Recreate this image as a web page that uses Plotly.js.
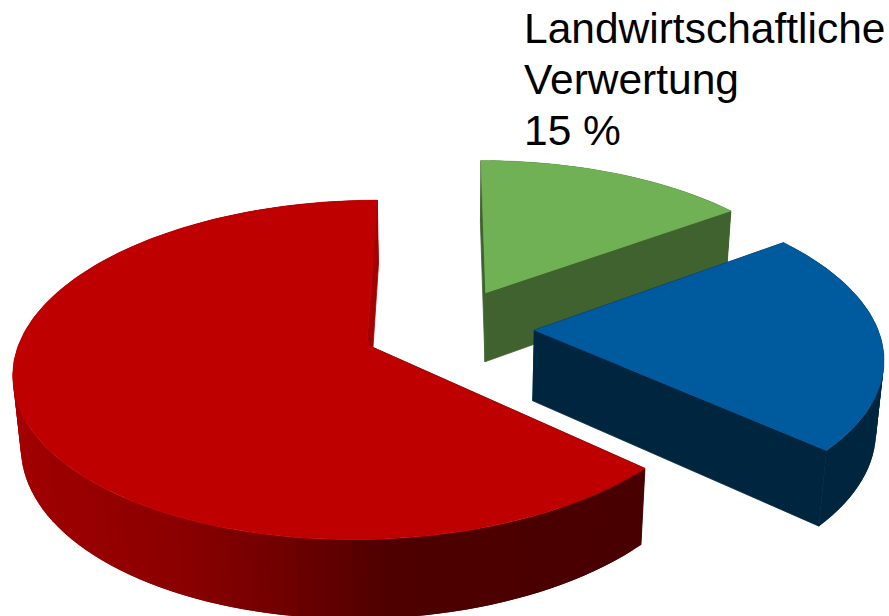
<!DOCTYPE html>
<html>
<head>
<meta charset="utf-8">
<script src="https://cdn.plot.ly/plotly-3.0.1.min.js"></script>
<style>html,body{margin:0;padding:0;background:#fff}</style>
</head>
<body>
<div id="chart" style="width:889px;height:616px"></div>
<script>
// Slice data, clockwise from twelve o'clock
const labelLines = ['Landwirtschaftliche', 'Verwertung'];
const sliceValues = [15, 21.7, 63.3];
const topColors = ['#71B156', '#005A9E', '#BE0000'];
const wallColors = ['#3F622E', '#00263F', null];
// Side shading of the large slice: clockwise angle -> red level
const shadeAngles = [132, 175, 190, 205, 225, 270, 360];
const shadeLevels = [72, 78, 112, 138, 152, 170, 165];

// Camera for the tilted disc
const cam = {u0: 447.5, v0: 328, focal: 2076, dist: 6.05, tilt: 28 * Math.PI / 180};
const explode = 0.253;
const thickness = 0.237;

function project(X, Y, Z) {
  const s = Math.sin(cam.tilt), c = Math.cos(cam.tilt);
  const depth = cam.dist + Y * c - Z * s;
  return [cam.u0 + cam.focal * X / depth, cam.v0 - cam.focal * (Y * s + Z * c) / depth];
}

function polygon(points, color, lineWidth) {
  const xy = points.map(p => project(p[0], p[1], p[2]));
  xy.push(xy[0]);
  return {
    type: 'scatter', mode: 'lines', fill: 'toself', fillcolor: color,
    x: xy.map(p => p[0]), y: xy.map(p => p[1]),
    line: {color: color, width: lineWidth}, hoverinfo: 'skip', showlegend: false
  };
}

function shade(deg) {
  let r = shadeLevels[0];
  for (let i = 1; i < shadeAngles.length; i++) {
    if (deg >= shadeAngles[i - 1] && deg <= shadeAngles[i]) {
      const t = (deg - shadeAngles[i - 1]) / (shadeAngles[i] - shadeAngles[i - 1]);
      r = Math.round(shadeLevels[i - 1] + t * (shadeLevels[i] - shadeLevels[i - 1]));
    }
  }
  return 'rgb(' + r + ',0,0)';
}

// Angles along an arc, always landing on both ends
function arcAngles(start, end, step) {
  const out = [];
  for (let a = start; a < end; a += step) out.push(a);
  out.push(end);
  return out;
}

const total = sliceValues.reduce((a, b) => a + b, 0);
const slices = [];
let running = 0;
sliceValues.forEach((v, i) => {
  const start = running / total * 360;
  running += v;
  slices.push({i, start, end: running / total * 360});
});

const traces = [];
const rad = Math.PI / 180;
// Far slices first so nearer ones paint over them
slices.forEach(({i, start, end}) => {
  const mid = (start + end) / 2 * rad;
  const ox = explode * Math.sin(mid), oy = explode * Math.cos(mid);
  const rim = a => [ox + Math.sin(a * rad), oy + Math.cos(a * rad)];
  const wall = wallColors[i];

  // Radial side walls
  [start, end].forEach(a => {
    const p = rim(a);
    traces.push(polygon([[ox, oy, 0], [p[0], p[1], 0], [p[0], p[1], -thickness], [ox, oy, -thickness]],
      wall || shade(a), 0.8));
  });

  // Outer wall; strips overlap the next one so they leave no seams
  const arc = arcAngles(start, end, 2);
  for (let k = 0; k < arc.length - 1; k++) {
    const a = arc[k], b = arc[k + 1], c = arc[Math.min(k + 2, arc.length - 1)];
    const p = rim(a), q = rim(b), r = rim(c);
    traces.push(polygon([[p[0], p[1], 0], [q[0], q[1], 0], [r[0], r[1], 0],
      [r[0], r[1], -thickness], [q[0], q[1], -thickness], [p[0], p[1], -thickness]],
      wall || shade((a + b) / 2), 0));
  }

  // Top face
  const face = [[ox, oy, 0]].concat(arcAngles(start, end, 1).map(a => { const p = rim(a); return [p[0], p[1], 0]; }));
  traces.push(polygon(face, topColors[i], 0.6));
});

const labelText = labelLines.concat([sliceValues[0] + ' %']);
const layout = {
  width: 889, height: 616,
  margin: {l: 0, r: 0, t: 0, b: 0},
  paper_bgcolor: '#fff', plot_bgcolor: '#fff',
  xaxis: {range: [0, 889], visible: false, fixedrange: true},
  yaxis: {range: [616, 0], visible: false, fixedrange: true},
  annotations: labelText.map((line, n) => ({
    xref: 'x', yref: 'y', x: 523, y: 28 + n * 51, xanchor: 'left', yanchor: 'middle',
    align: 'left', showarrow: false, borderpad: 0, text: line,
    font: {family: '"Liberation Sans", Arial, sans-serif', size: 42.5, color: '#000'}
  }))
};

Plotly.newPlot('chart', traces, layout, {displayModeBar: false, staticPlot: true});
</script>
</body>
</html>
